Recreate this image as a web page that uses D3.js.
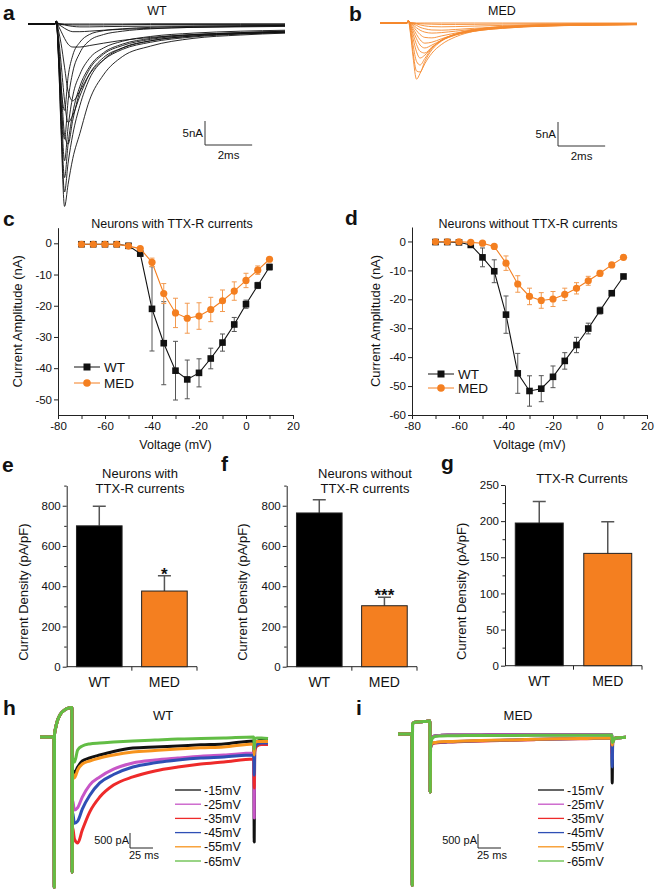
<!DOCTYPE html>
<html><head><meta charset="utf-8">
<script src="https://cdn.jsdelivr.net/npm/d3@7"></script>
<style>
body{margin:0;background:#fff;}
svg{display:block;font-family:"Liberation Sans",Arial,Helvetica,sans-serif;}
</style></head><body>
<svg id="fig" width="660" height="892"></svg>
<script>
// ================= DATA =================
// Panels a / b : sodium current families (nA) sampled at traceTimesAB (ms)
const traceTimesAB = [0, 1.15, 1.2, 1.3, 1.4, 1.55, 1.7, 1.9, 2.2, 2.6, 3.2, 4.0, 5.2, 7.0, 9.0, 10.9];
const tracesWT = [
  [0, 0, 0.6, 0.1, 0.05, 0, 0, 0, 0, 0, 0, 0, 0.05, 0.05, 0.05, 0.05],
  [0, 0, 0.6, 0, -0.05, -0.1, -0.15, -0.2, -0.2, -0.2, -0.2, -0.15, -0.1, -0.1, -0.1, -0.1],
  [0, 0, 0.6, 0, -0.1, -0.2, -0.35, -0.5, -0.6, -0.6, -0.55, -0.5, -0.45, -0.4, -0.35, -0.3],
  [0, 0, 0.6, -0.1, -0.4, -0.9, -1.3, -1.6, -1.6, -1.5, -1.3, -1.1, -0.9, -0.7, -0.6, -0.5],
  [0, 0, 0.6, -0.5, -1.5, -3.0, -4.2, -4.8, -4.8, -4.5, -4.0, -3.4, -2.8, -2.2, -1.9, -1.7],
  [0, 0, 0.6, -1.5, -4, -9, -14, -16, -14, -10.5, -7.5, -5.3, -3.8, -2.7, -2.1, -1.8],
  [0, 0, 0.6, -3, -8, -16, -20.5, -19, -15, -10.5, -7, -5, -3.5, -2.5, -2, -1.7],
  [0, 0, 0.6, -4, -12, -23, -25, -20, -14, -9.5, -6.3, -4.5, -3.2, -2.3, -1.8, -1.5],
  [0, 0, 0.6, -6, -16, -28.5, -21.5, -15, -10.5, -7.2, -5, -3.6, -2.6, -1.9, -1.5, -1.3],
  [0, 0, 0.6, -7, -19, -32, -25, -18.5, -13, -9, -6, -4.2, -3, -2.2, -1.8, -1.5],
  [0, 0, 0.6, -8, -21, -35, -29, -23, -17, -11.5, -7.5, -5, -3.5, -2.5, -2, -1.7],
  [0, 0, 0.6, -8, -22, -38, -33.4, -28, -22.8, -16, -10.6, -6.8, -4.6, -3.0, -2.3, -1.9],
  [0, 0, 0.6, -7, -16, -24, -16, -10, -6, -3.5, -2.2, -1.5, -1, -0.7, -0.5, -0.4],
  [0, 0, 0.6, -6, -13, -18, -11, -6.5, -3.8, -2.2, -1.4, -1, -0.7, -0.5, -0.4, -0.3]
];
const tracesMED = [
  [0, 0, 0.5, 0.1, 0.05, 0, 0, 0, 0, 0, 0, 0, 0, 0, 0, 0],
  [0, 0, 0.5, 0, 0, -0.1, -0.15, -0.2, -0.25, -0.3, -0.3, -0.28, -0.22, -0.15, -0.12, -0.1],
  [0, 0, 0.5, 0, -0.1, -0.2, -0.4, -0.6, -0.75, -0.8, -0.75, -0.65, -0.5, -0.35, -0.25, -0.2],
  [0, 0, 0.5, 0, -0.2, -0.5, -0.9, -1.2, -1.45, -1.5, -1.35, -1.1, -0.8, -0.55, -0.4, -0.3],
  [0, 0, 0.5, -0.1, -0.4, -1.0, -1.5, -1.9, -2.1, -2.0, -1.7, -1.3, -0.9, -0.6, -0.4, -0.3],
  [0, 0, 0.5, -0.2, -0.7, -1.6, -2.4, -3.0, -3.1, -2.7, -2.1, -1.5, -1.0, -0.6, -0.45, -0.35],
  [0, 0, 0.5, -0.3, -1.1, -2.4, -3.5, -4.2, -4.0, -3.3, -2.4, -1.7, -1.1, -0.65, -0.45, -0.35],
  [0, 0, 0.5, -0.5, -1.6, -3.3, -4.6, -5.2, -4.6, -3.6, -2.5, -1.7, -1.1, -0.6, -0.4, -0.3],
  [0, 0, 0.5, -0.7, -2.3, -4.5, -5.9, -6.25, -5.0, -3.7, -2.5, -1.6, -1.0, -0.55, -0.35, -0.25],
  [0, 0, 0.5, -1, -3.2, -6, -7.3, -6.7, -5.2, -3.6, -2.4, -1.5, -0.9, -0.5, -0.3, -0.2],
  [0, 0, 0.5, -1.5, -4.5, -8, -8.75, -7.4, -5.3, -3.6, -2.3, -1.4, -0.8, -0.4, -0.25, -0.15],
  [0, 0, 0.5, -2, -6, -10, -10.2, -8, -5.6, -3.8, -2.3, -1.4, -0.7, -0.35, -0.2, -0.1],
  [0, 0, 0.5, -2.5, -7, -11.7, -10.5, -8.5, -6.3, -4.5, -2.9, -1.7, -0.9, -0.4, -0.2, -0.1]
];

// Panels c / d : I-V curves (nA)
const ivVoltages = [-70,-65,-60,-55,-50,-45,-40,-35,-30,-25,-20,-15,-10,-5,0,5,10];
const cWT     = [-0.3,-0.3,-0.3,-0.3,-0.8,-3.3,-21.0,-32.0,-40.8,-43.6,-41.5,-36.9,-31.8,-26.0,-19.5,-13.5,-7.6];
const cWTerr  = [0.4,0.4,0.4,0.4,0.5,0.8,13.5,13.3,9.4,6.2,4.5,3.3,2.75,2.25,1.3,1.0,0.9];
const cMED    = [-0.3,-0.3,-0.3,-0.3,-0.9,-1.7,-6.1,-16.1,-22.3,-24.0,-23.3,-21.2,-18.4,-15.3,-11.9,-8.6,-5.1];
const cMEDerr = [0.3,0.3,0.3,0.3,0.3,0.4,1.35,3.2,4.7,4.8,4.25,3.9,3.45,2.95,2.3,1.35,0.5];
const dWT     = [-0.2,-0.2,-0.3,-1.2,-5.5,-10.3,-25.3,-45.6,-51.7,-50.9,-46.8,-41.3,-35.8,-30.1,-23.9,-17.9,-12.1];
const dWTerr  = [0.3,0.3,0.3,0.6,3.25,3.95,6.45,6.9,5.25,4.5,3.75,2.85,2.65,1.85,1.2,0.8,0.6];
const dMED    = [-0.1,-0.1,-0.1,-0.3,-0.6,-1.7,-7.5,-14.7,-19.0,-20.4,-19.9,-18.3,-16.2,-13.6,-11.0,-8.1,-5.5];
const dMEDerr = [0.2,0.2,0.2,0.3,0.4,0.5,2.5,2.85,2.85,2.7,2.6,2.15,1.95,1.55,1.0,0.7,0.5];
const cYTicks = [0,-10,-20,-30,-40,-50];
const dYTicks = [0,-10,-20,-30,-40,-50,-60];
const ivXTicks = [-80,-70,-60,-50,-40,-30,-20,-10,0,10,20];

// Panels e / f / g : current density (pA/pF)
const groups = ["WT","MED"];
const eMean = [700, 376],   eErr = [97, 76];
const fMean = [764, 303],   fErr = [66, 42];
const gMean = [197.4, 155.4], gErr = [29.6, 43.6];
const efMajor = [0,200,400,600,800], efMinor = [100,300,500,700,900];
const gMajor = [0,50,100,150,200,250], gMinor = [25,75,125,175,225];

// Panels h / i : TTX-R current traces (pA) sampled at traceTimesHI (ms)
const traceTimesHI = [0,15.2,15.5,15.8,17,19,22,26,30,34.7,35.0,35.4,37.5,41,46,54,65,80,101,125,150,175,200,232.6,233,233.5,236,241,248];
const stepLabels = ["-15mV","-25mV","-35mV","-45mV","-55mV","-65mV"];
const hPre = [0,0,-5000,100,300,550,750,880,950,980,-4500];
const hTraces = [
  hPre.concat([-1100,-1200,-1000,-800,-700,-600,-480,-366,-330,-300,-260,-233,-133,-3500,-300,-150,-100,-100]),
  hPre.concat([-2100,-2430,-2350,-2000,-1600,-1330,-1070,-866,-766,-700,-640,-600,-533,-2700,-350,-200,-150,-150]),
  hPre.concat([-3000,-3400,-3530,-3100,-2500,-2000,-1600,-1330,-1130,-1000,-900,-830,-730,-1700,-500,-300,-250,-250]),
  hPre.concat([-2500,-2870,-2800,-2400,-1950,-1530,-1250,-1000,-860,-766,-700,-666,-600,-1270,-400,-250,-200,-200]),
  hPre.concat([-1200,-1365,-1100,-900,-800,-700,-600,-500,-450,-400,-360,-333,-233,-600,-200,-150,-150,-150]),
  hPre.concat([-700,-833,-433,-300,-230,-200,-170,-133,-100,-66,-50,-33,0,-400,-50,-30,-30,-50])
];
const iPre = [0,0,-5400,350,400,420,430,440,450,460,-2070];
const iTraces = [
  iPre.concat([-300,-100,-60,-50,-40,-40,-40,-30,-30,-30,-30,-30,-30,-1750,-300,-150,-130,-120]),
  iPre.concat([-300,-100,-60,-50,-40,-40,-40,-30,-30,-30,-30,-30,-30,-900,-300,-150,-130,-120]),
  iPre.concat([-500,-350,-320,-300,-290,-280,-260,-240,-220,-200,-180,-170,-150,-700,-300,-150,-130,-120]),
  iPre.concat([-500,-330,-300,-290,-280,-270,-250,-230,-210,-190,-175,-160,-150,-1180,-300,-150,-130,-120]),
  iPre.concat([-450,-320,-300,-280,-270,-260,-240,-220,-210,-190,-170,-160,-140,-400,-300,-150,-130,-120]),
  iPre.concat([-400,-150,-80,-70,-60,-60,-50,-50,-50,-45,-45,-45,-40,-300,-300,-150,-130,-120])
];

// ================= STYLE =================
const ORANGE = "#f47f20";
const ORANGE_ERR = "#f29a50";
const stepColors = ["#111111","#c756c7","#ee2a2a","#2f4fb5","#f7941d","#62bd45"];
const svg = d3.select("#fig");

function txt(x, y, s, size, anchor, extra) {
  const t = svg.append("text").attr("x", x).attr("y", y).text(s)
    .attr("font-size", size).attr("text-anchor", anchor || "start").attr("fill", "#111");
  if (extra) for (const k in extra) t.attr(k, extra[k]);
  return t;
}
function styleAxis(g, size) {
  g.attr("font-family", null).attr("font-size", size || 11);
  g.selectAll("path.domain").attr("stroke", "#222").attr("stroke-width", 1);
  g.selectAll(".tick line").attr("stroke", "#222");
  g.selectAll(".tick text").attr("fill", "#111");
}

// panel letters
[["a",3,20],["b",349,21],["c",3,226],["d",345,225],["e",2,472],["f",221,471],["g",441,470],["h",3,715],["i",356,715]]
  .forEach(([l,x,y]) => txt(x, y, l, 21, "start", {"font-weight":"bold"}));

// ================= PANELS a / b =================
function familyPanel(traces, x0, x1, base, color, title, titleX, bar) {
  const x = d3.scaleLinear([0, 10.9], [x0, x1]);
  const y = d3.scaleLinear([0, -10], [base, base + 48]);
  const line = d3.line().x((d,i) => x(traceTimesAB[i])).y(d => y(d)).curve(d3.curveMonotoneX);
  svg.append("g").selectAll("path").data(traces).join("path")
    .attr("d", line).attr("fill", "none").attr("stroke", color).attr("stroke-width", 0.9);
  txt(titleX, 15, title, 12.5, "middle");
  // scale bar 5 nA / 2 ms
  const bx = bar[0], by = bar[1];
  const h = y(-5) - y(0), w = x(2) - x(0);
  svg.append("path").attr("d", `M${bx},${by - h}V${by}H${bx + w}`)
    .attr("fill", "none").attr("stroke", "#333").attr("stroke-width", 1);
  txt(bx - 2, by - h / 2 + 4, "5nA", 11.5, "end");
  txt(bx + w / 2, by + 14, "2ms", 11.5, "middle");
}
familyPanel(tracesWT, 28, 285, 24, "#111", "WT", 157, [205, 145]);
familyPanel(tracesMED, 380, 637, 23, "#f5892e", "MED", 502, [558, 146]);

// ================= PANELS c / d =================
function ivPanel(o) {
  const x = d3.scaleLinear([-80, 20], [o.x0, o.x1]);
  const y = d3.scaleLinear(o.yDom, [o.yBot, o.yTop]);
  const gx = svg.append("g").attr("transform", `translate(0,${o.yBot})`)
    .call(d3.axisBottom(x).tickValues(ivXTicks).tickFormat(d => d % 20 === 0 ? String(d) : "")
      .tickSize(4).tickSizeOuter(0).tickPadding(3));
  styleAxis(gx, 11.5);
  const gy = svg.append("g").attr("transform", `translate(${o.x0},0)`)
    .call(d3.axisLeft(y).tickValues(o.yTicks).tickFormat(d => String(d))
      .tickSize(4).tickSizeOuter(0).tickPadding(2));
  styleAxis(gy, 11.5);
  txt((o.x0 + o.x1) / 2, 449, "Voltage (mV)", 12.5, "middle");
  txt(0, 0, "Current Amplitude (nA)", 13, "middle",
    {transform: `translate(${o.labelX},${(o.yTop + o.yBot) / 2}) rotate(-90)`});
  txt(o.titleX, 228, o.title, 12.5, "middle");

  const series = [
    {v: o.wt, e: o.wtErr, color: "#111", err: "#555", shape: "square"},
    {v: o.med, e: o.medErr, color: ORANGE, err: ORANGE_ERR, shape: "circle"}
  ];
  series.forEach(s => {
    const g = svg.append("g");
    g.append("path").datum(s.v)
      .attr("d", d3.line().x((d,i) => x(ivVoltages[i])).y(d => y(d)))
      .attr("fill", "none").attr("stroke", s.color).attr("stroke-width", 1.1);
    g.selectAll("path.err").data(s.v).join("path").attr("class", "err")
      .attr("d", (d,i) => {
        const cx = x(ivVoltages[i]), y1 = y(d - s.e[i]), y2 = y(d + s.e[i]);
        return `M${cx},${y1}V${y2}M${cx - 2.5},${y1}H${cx + 2.5}M${cx - 2.5},${y2}H${cx + 2.5}`;
      })
      .attr("stroke", s.err).attr("stroke-width", 1).attr("fill", "none");
    if (s.shape === "square") {
      g.selectAll("rect").data(s.v).join("rect")
        .attr("x", (d,i) => x(ivVoltages[i]) - 3.3).attr("y", d => y(d) - 3.3)
        .attr("width", 6.6).attr("height", 6.6).attr("fill", s.color);
    } else {
      g.selectAll("circle").data(s.v).join("circle")
        .attr("cx", (d,i) => x(ivVoltages[i])).attr("cy", d => y(d)).attr("r", 3.6).attr("fill", s.color);
    }
  });
  // legend
  const lx = o.legX, ly = o.legY;
  svg.append("line").attr("x1", lx).attr("x2", lx + 26).attr("y1", ly[0]).attr("y2", ly[0]).attr("stroke", "#111");
  svg.append("rect").attr("x", lx + 13 - 3.5).attr("y", ly[0] - 3.5).attr("width", 7).attr("height", 7).attr("fill", "#111");
  txt(lx + 30, ly[0] + 5, "WT", 13.5, "start");
  svg.append("line").attr("x1", lx).attr("x2", lx + 26).attr("y1", ly[1]).attr("y2", ly[1]).attr("stroke", ORANGE);
  svg.append("circle").attr("cx", lx + 13).attr("cy", ly[1]).attr("r", 3.8).attr("fill", ORANGE);
  txt(lx + 30, ly[1] + 5, "MED", 13.5, "start");
}
ivPanel({x0: 58, x1: 293, yTop: 227.7, yBot: 415, yDom: [-55, 5], yTicks: cYTicks,
  wt: cWT, wtErr: cWTerr, med: cMED, medErr: cMEDerr,
  title: "Neurons with TTX-R currents", titleX: 172, labelX: 22, legX: 74, legY: [367, 383]});
ivPanel({x0: 412, x1: 647, yTop: 227, yBot: 415, yDom: [-60, 5], yTicks: dYTicks,
  wt: dWT, wtErr: dWTerr, med: dMED, medErr: dMEDerr,
  title: "Neurons without TTX-R currents", titleX: 528, labelX: 380, legX: 428, legY: [374, 388]});

// ================= PANELS e / f / g =================
function barPanel(o) {
  const y = d3.scaleLinear([0, o.yMax], [o.yBot, o.yTop]);
  const x = d3.scaleBand(groups, [o.x0, o.x1]).paddingInner(0.3).paddingOuter(0.15);
  const gy = svg.append("g").attr("transform", `translate(${o.x0},0)`)
    .call(d3.axisLeft(y).tickValues(o.major).tickSize(4).tickSizeOuter(0).tickPadding(2));
  styleAxis(gy, 11.5);
  svg.append("g").attr("transform", `translate(${o.x0},0)`)
    .call(d3.axisLeft(y).tickValues(o.minor).tickSize(2.5).tickFormat("")).call(g => g.select(".domain").remove())
    .selectAll("line").attr("stroke", "#222");
  // x axis
  svg.append("line").attr("x1", o.x0).attr("x2", o.x1).attr("y1", o.yBot).attr("y2", o.yBot).attr("stroke", "#222");
  [o.x0 + (o.x1 - o.x0) / 2, o.x1].forEach(t =>
    svg.append("line").attr("x1", t).attr("x2", t).attr("y1", o.yBot).attr("y2", o.yBot + 4).attr("stroke", "#222"));
  groups.forEach((gname, i) => {
    const bx = x(gname), bw = x.bandwidth(), cx = bx + bw / 2;
    svg.append("path").attr("d", `M${cx},${y(o.mean[i])}V${y(o.mean[i] + o.err[i])}M${cx - 6.5},${y(o.mean[i] + o.err[i])}H${cx + 6.5}`)
      .attr("stroke", "#555").attr("stroke-width", 1.5).attr("fill", "none");
    svg.append("rect").attr("x", bx).attr("y", y(o.mean[i])).attr("width", bw)
      .attr("height", y(0) - y(o.mean[i])).attr("fill", i === 0 ? "#000" : ORANGE)
      .attr("stroke", "#222").attr("stroke-width", 1);
    txt(cx, o.yBot + 20, gname, 14, "middle");
  });
  if (o.star) txt(x("MED") + x.bandwidth() / 2, y(o.mean[1] + o.err[1]) - 4, o.star, 17, "middle", {"font-weight": "bold"})
    .attr("dy", 8);
  o.title.forEach((t, k) => txt(o.titleX, o.titleY + k * 14.5, t, 13, "middle"));
  txt(0, 0, "Current Density (pA/pF)", 13, "middle",
    {transform: `translate(${o.labelX},${(o.yTop + o.yBot) / 2 + 16}) rotate(-90)`});
}
barPanel({x0: 66.7, x1: 197, yTop: 485.6, yBot: 666.7, yMax: 900, major: efMajor, minor: efMinor,
  mean: eMean, err: eErr, star: "*", title: ["Neurons with", "TTX-R currents"], titleX: 140, titleY: 478, labelX: 28});
barPanel({x0: 286.7, x1: 417, yTop: 485.6, yBot: 666.7, yMax: 900, major: efMajor, minor: efMinor,
  mean: fMean, err: fErr, star: "***", title: ["Neurons without", "TTX-R currents"], titleX: 365, titleY: 478, labelX: 247});
barPanel({x0: 505, x1: 642, yTop: 485, yBot: 665.7, yMax: 250, major: gMajor, minor: gMinor,
  mean: gMean, err: gErr, star: null, title: ["TTX-R Currents"], titleX: 582, titleY: 483, labelX: 466});

// ================= PANELS h / i =================
function stepPanel(traces, x0, zeroY, pApx, title, titleX, legX, barX, width) {
  const x = d3.scaleLinear([0, 248], [x0, x0 + 228]);
  const y = d3.scaleLinear([0, -1000], [zeroY, zeroY + 1000 / pApx]);
  const line = d3.line().x((d,i) => x(traceTimesHI[i])).y(d => y(d)).curve(d3.curveMonotoneX);
  svg.append("g").selectAll("path").data(traces).join("path")
    .attr("d", line).attr("fill", "none").attr("stroke", (d,i) => stepColors[i])
    .attr("stroke-width", width).attr("stroke-linejoin", "round");
  txt(titleX, 720, title, 13, "middle");
  stepLabels.forEach((s, i) => {
    const ly = 790 + i * 14.2;
    svg.append("line").attr("x1", legX).attr("x2", legX + 26).attr("y1", ly).attr("y2", ly)
      .attr("stroke", stepColors[i]).attr("stroke-width", 1.3);
    txt(legX + 29, ly + 4.5, s, 12.5, "start");
  });
  const h = y(-500) - y(0), w = x(25) - x(0);
  const by = 848;
  svg.append("path").attr("d", `M${barX},${by - h}V${by}H${barX + w}`)
    .attr("fill", "none").attr("stroke", "#222").attr("stroke-width", 1);
  txt(barX - 1, by - 4, "500 pA", 11, "end");
  txt(barX - 1, by + 11, "25 ms", 11, "start");
}
stepPanel(hTraces, 40, 737, 33.3, "WT", 163, 175, 130, 3);
stepPanel(iTraces, 398, 734, 35.7, "MED", 518, 538, 478, 3);
</script>
</body></html>
